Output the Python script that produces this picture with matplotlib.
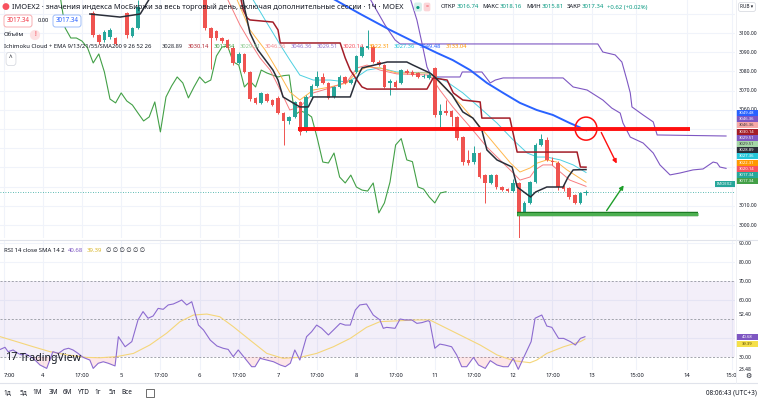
import numpy as np
import matplotlib
matplotlib.use('Agg')
import matplotlib.pyplot as plt
import matplotlib.transforms as mtransforms
import matplotlib.patheffects as pe
from matplotlib.patches import Ellipse, Rectangle
from matplotlib.lines import Line2D

plt.rcParams['font.family'] = ['Noto Sans', 'DejaVu Sans']

nan = float('nan')

# hourly candles, bar numbers 16..104 (104 = last bar), nan = bar above the visible range
first_bar = 16
opens = [3110.4, 3099.0, 3096.4, 3097.9, 3097.4, nan, 3110.4, 3098.4, 3102.6,
         nan, nan, nan, nan, nan, nan, nan, nan, nan, nan, 3124.0,
         3121.0, 3102.6, 3101.0, 3097.4, 3096.4, 3092.2, 3084.4, 3089.1, 3079.7, 3066.2,
         3063.6, 3068.2, 3065.1, 3066.2, 3058.3, 3054.2, 3056.3, 3064.1, 3049.0, 3066.7,
         3072.4, 3077.1, 3074.0, 3066.7, 3071.9, 3077.1, 3074.0, 3079.7, 3088.0, 3092.2,
         3092.7, 3085.0, 3083.3, 3073.9, 3074.5, 3073.9, 3080.2, 3079.7, 3079.2, 3077.1,
         3076.6, 3081.8, 3057.3, 3059.4, 3059.4, 3056.3, 3045.8, 3033.9, 3032.8, 3037.5,
         3026.0, 3021.9, 3026.0, 3019.8, 3018.7, 3017.9, 3021.9, 3006.3, 3011.5, 3022.4,
         3041.7, 3044.3, 3033.6, 3032.3, 3019.8, 3019.3, 3015.6, 3011.5, 3016.74]
highs = [3111.5, 3099.6, 3101.6, 3102.6, 3098.0, nan, 3111.0, 3103.2, 3117.0,
         nan, nan, nan, nan, nan, nan, nan, nan, nan, nan, 3126.0,
         3123.0, 3103.0, 3101.6, 3098.0, 3097.0, 3093.0, 3090.0, 3089.6, 3080.2, 3066.8,
         3069.4, 3068.8, 3065.6, 3067.0, 3058.8, 3057.0, 3064.8, 3064.8, 3067.5, 3073.5,
         3080.0, 3079.0, 3074.6, 3072.5, 3078.0, 3077.6, 3076.2, 3088.6, 3094.0, 3101.6,
         3093.5, 3086.0, 3084.0, 3076.0, 3075.5, 3081.5, 3081.0, 3080.5, 3079.8, 3078.5,
         3079.0, 3082.5, 3063.0, 3065.0, 3060.0, 3057.0, 3046.5, 3039.0, 3041.0, 3038.2,
         3026.6, 3026.8, 3026.6, 3020.4, 3019.3, 3024.2, 3022.5, 3012.3, 3023.0, 3042.5,
         3047.5, 3046.0, 3035.5, 3033.4, 3021.0, 3020.0, 3016.2, 3017.4, 3018.16]
lows = [3098.0, 3094.2, 3095.5, 3097.0, 3093.5, nan, 3097.5, 3097.8, 3102.0,
        nan, nan, nan, nan, nan, nan, nan, nan, nan, nan, 3120.0,
        3101.5, 3081.0, 3096.2, 3094.8, 3091.6, 3083.5, 3083.8, 3079.0, 3064.8, 3063.0,
        3063.0, 3064.0, 3061.8, 3057.8, 3041.7, 3052.5, 3055.5, 3047.0, 3048.3, 3066.0,
        3071.8, 3073.5, 3065.6, 3066.0, 3071.3, 3073.5, 3073.4, 3079.0, 3087.5, 3091.5,
        3084.4, 3082.8, 3071.3, 3067.7, 3071.3, 3073.4, 3078.5, 3077.6, 3076.6, 3076.6,
        3076.0, 3056.5, 3051.0, 3057.5, 3051.6, 3044.5, 3031.5, 3031.5, 3032.0, 3024.3,
        3011.5, 3021.4, 3019.0, 3017.5, 3017.2, 3017.4, 2993.5, 3005.5, 3010.8, 3021.8,
        3041.0, 3033.2, 3031.4, 3018.0, 3017.8, 3013.5, 3010.8, 3010.8, 3015.81]
closes = [3099.0, 3095.3, 3100.5, 3101.6, 3094.3, nan, 3099.0, 3102.6, 3113.6,
          nan, nan, nan, nan, nan, nan, nan, nan, nan, nan, 3121.0,
          3102.6, 3097.4, 3097.4, 3095.8, 3092.2, 3084.4, 3089.1, 3079.7, 3065.6, 3063.6,
          3068.8, 3064.6, 3062.5, 3058.3, 3054.2, 3056.3, 3064.1, 3048.5, 3066.7, 3072.4,
          3077.1, 3074.0, 3066.2, 3071.9, 3077.1, 3074.0, 3075.5, 3088.0, 3092.7, 3093.2,
          3085.0, 3083.3, 3071.9, 3075.0, 3071.9, 3080.7, 3079.2, 3078.1, 3077.1, 3077.8,
          3078.1, 3057.3, 3059.4, 3058.4, 3056.3, 3045.3, 3032.8, 3032.3, 3037.5, 3025.0,
          3021.9, 3026.0, 3019.8, 3018.2, 3017.7, 3021.9, 3006.3, 3011.5, 3022.4, 3041.7,
          3045.0, 3033.9, 3033.0, 3019.8, 3018.7, 3014.6, 3011.5, 3016.7, 3017.34]

# Ichimoku lines (bar, price)
tenkan_bar = [15.4, 20.8, 24.4, 26.5, 42.6, 43.1, 44.0, 45.4, 48.1, 49.0, 49.9, 52.9, 54.4, 55.3,
              61.9, 63.1, 64.0, 68.5, 72.0, 73.1, 76.1, 77.0, 80.1, 82.0, 83.8, 85.4, 86.3, 88.1,
              90.8, 91.7, 94.1, 95.0, 97.0, 99.9, 100.8, 101.7, 104]
tenkan_val = [3109.9, 3108.3, 3109.9, 3120.0, 3120.0, 3112.0, 3100.0, 3091.2, 3080.7, 3075.5,
              3066.7, 3061.5, 3061.5, 3066.7, 3066.7, 3076.6, 3081.8, 3084.9, 3084.9, 3083.3,
              3079.2, 3077.1, 3067.7, 3058.9, 3055.7, 3049.5, 3039.1, 3033.9, 3030.2, 3019.8,
              3014.6, 3017.2, 3019.8, 3019.8, 3025.0, 3028.7, 3028.89]
kijun_bar = [42.2, 42.8, 43.5, 44.0, 48.1, 49.0, 49.4, 60.1, 61.0, 61.9, 63.1, 64.0, 64.9, 75.6,
             76.7, 79.2, 80.3, 82.0, 85.1, 85.4, 90.4, 91.7, 102.4, 103.0, 104]
kijun_val = [3120.0, 3112.0, 3107.8, 3106.8, 3105.7, 3101.6, 3094.8, 3094.8, 3087.0, 3080.7,
             3075.5, 3071.9, 3070.8, 3070.8, 3076.6, 3075.5, 3068.8, 3065.1, 3064.1, 3055.7,
             3055.7, 3038.0, 3038.0, 3030.2, 3030.14]
span_a_bar = [72.4, 73.8, 74.7, 75.6, 76.1, 77.0, 81.5, 81.9, 85.4, 86.9, 87.8, 89.2, 99.9, 101.7,
              104.2, 107.0, 108.6, 110.1, 110.6, 111.9, 114.2, 116.0, 117.2, 119.0, 120.8, 123.1,
              124.9, 126.7, 127.4, 127.9, 129]
span_a_val = [3120.0, 3106.8, 3094.8, 3082.3, 3079.2, 3077.1, 3077.1, 3079.7, 3079.7, 3074.0,
              3075.5, 3076.6, 3076.6, 3071.9, 3070.3, 3065.1, 3060.9, 3058.3, 3053.1, 3045.8,
              3042.7, 3037.5, 3031.3, 3026.1, 3027.1, 3028.7, 3029.2, 3032.8, 3032.3, 3030.2,
              3029.51]
span_b_bar = [65.0, 68.1, 69.9, 70.8, 106.1, 107.0, 109.2, 110.4, 111.3, 111.9, 112.2, 114.2,
              116.0, 116.7, 129]
span_b_val = [3120.0, 3104.2, 3096.4, 3094.3, 3094.3, 3090.1, 3088.6, 3084.9, 3075.5, 3068.8,
              3061.5, 3057.3, 3053.7, 3046.9, 3046.36]

# moving averages (bar, price)
ema9_bar = [39.6, 42.2, 44.0, 45.8, 47.6, 49.4, 51.1, 52.9, 55.3, 58.3, 61.3, 63.1, 64.9, 67.2,
            70.2, 76.1, 77.9, 80.2, 83.3, 86.3, 89.2, 91.0, 92.2, 94.0, 94.9, 96.3, 97.9, 99.4,
            101.1, 104]
ema9_val = [3120.0, 3104.2, 3095.3, 3087.0, 3080.7, 3070.3, 3059.9, 3061.5, 3068.8, 3071.4,
            3074.5, 3081.8, 3083.3, 3080.7, 3078.7, 3078.1, 3070.3, 3061.5, 3051.1, 3040.6,
            3032.3, 3027.1, 3023.4, 3025.0, 3028.7, 3031.3, 3031.3, 3027.6, 3023.4, 3020.14]
ema13_bar = [41.3, 44.0, 46.7, 49.4, 51.1, 52.9, 55.3, 58.3, 61.3, 63.1, 64.9, 67.2, 70.2, 76.1,
             79.2, 82.0, 85.1, 88.1, 90.5, 92.2, 94.0, 95.3, 97.0, 98.8, 100.6, 104]
ema13_val = [3120.0, 3101.6, 3091.2, 3078.1, 3069.3, 3065.1, 3070.3, 3071.9, 3074.0, 3079.7,
             3082.3, 3081.8, 3079.2, 3079.2, 3070.3, 3061.5, 3051.1, 3040.6, 3032.3, 3027.6,
             3029.7, 3032.3, 3033.9, 3032.8, 3028.7, 3022.31]
ema21_bar = [44.0, 46.7, 49.4, 51.1, 52.9, 55.3, 58.3, 61.3, 63.1, 64.9, 67.2, 70.2, 76.1, 79.2,
             82.0, 85.1, 88.1, 91.0, 93.5, 95.3, 97.0, 99.4, 101.7, 104]
ema21_val = [3120.0, 3106.8, 3093.8, 3086.0, 3078.1, 3075.5, 3075.5, 3074.5, 3077.1, 3080.7,
             3081.8, 3079.7, 3079.2, 3074.5, 3068.8, 3060.9, 3053.1, 3044.3, 3037.5, 3035.4,
             3035.4, 3033.9, 3031.3, 3027.36]
ema55_bar = [57.5, 63.7, 69.0, 74.4, 77.4, 80.2, 83.3, 86.3, 89.2, 92.2, 95.2, 98.1, 101.1, 104]
ema55_val = [3120.0, 3109.9, 3101.6, 3093.8, 3089.6, 3085.9, 3080.7, 3074.0, 3068.8, 3063.6,
             3059.9, 3057.3, 3053.1, 3049.48]

# RSI 14 and its SMA 14 (bar, value)
rsi_bar = [-0.6, 0.25, 0.8, 1.7, 2.6, 3.2, 3.8, 5.3, 6.5, 7.7, 8.8, 9.8, 10.8, 11.6, 12.4, 13.3,
           14.2, 15.4, 16, 16.9, 17.8, 18.7, 19.9, 20.5, 21.7, 22.9, 24, 24.9, 25.8, 26.7, 27.6,
           28.5, 29.4, 30.3, 31.2, 31.8, 32.7, 33.6, 34.8, 35.7, 36.9, 38.1, 39.2, 40.1, 41,
           41.9, 43.1, 44.3, 44.9, 45.8, 47, 48.2, 49.4, 50.3, 51.2, 52, 52.9, 54.1, 55, 55.9,
           56.8, 58, 58.9, 60.1, 61, 61.9, 62.8, 63.6, 64.8, 66, 67.2, 67.8, 68.4, 69.9, 70.8,
           71.7, 72.9, 73.8, 74.7, 75.8, 76.1, 77, 77.9, 78.8, 80, 80.9, 81.8, 82.7, 83.9, 84.8,
           86, 86.9, 88.1, 89.2, 90.1, 91, 91.9, 92.8, 94.2, 94.9, 96.1, 97, 97.9, 99.1, 100,
           101.2, 102.1, 103, 103.8]
rsi_val = [34.0, 35.1, 32.8, 33.7, 31.9, 31.1, 31.9, 29.3, 25.8, 24.0, 32.8, 31.9, 34.0, 34.6,
           33.7, 31.9, 29.8, 28.4, 24.0, 26.7, 27.5, 26.7, 25.3, 40.7, 35.4, 38.1, 49.5, 53.9,
           50.4, 51.6, 55.6, 55.1, 57.4, 57.9, 59.1, 60.0, 57.4, 59.1, 46.8, 44.2, 38.9, 35.8,
           34.6, 34.0, 30.2, 33.7, 29.3, 24.9, 24.9, 29.3, 28.4, 27.5, 25.8, 24.9, 26.7, 33.7,
           28.4, 40.7, 43.3, 46.8, 45.1, 41.6, 44.2, 47.7, 46.8, 46.8, 54.7, 57.4, 57.9, 52.1,
           49.5, 45.1, 45.6, 45.1, 50.0, 49.5, 49.5, 47.7, 48.1, 49.1, 48.6, 34.6, 36.8, 36.3,
           35.4, 31.1, 24.9, 24.9, 29.8, 25.8, 24.0, 28.1, 25.8, 24.9, 24.9, 29.3, 23.5, 29.3,
           38.1, 50.4, 52.1, 46.3, 45.6, 39.8, 39.8, 38.1, 36.3, 39.8, 40.68]
rsi_ma_bar = [-0.6, 2.3, 5.3, 8.3, 11.3, 14.8, 17.2, 20.2, 23.2, 26.1, 29.1, 31.5, 33.9, 36.3,
              38.6, 41.0, 44.0, 47.0, 49.9, 52.9, 55.9, 58.9, 61.9, 64.8, 67.2, 70.8, 73.8, 76.1,
              79.1, 82.1, 85.1, 88.1, 91.0, 94.0, 95.2, 97.0, 100.0, 103.0, 103.8]
rsi_ma_val = [40.7, 38.1, 35.4, 32.8, 31.1, 29.8, 29.6, 30.2, 31.9, 36.3, 42.5, 48.6, 52.1, 52.6,
              51.2, 46.0, 38.9, 31.9, 29.3, 29.8, 31.9, 35.4, 39.8, 45.6, 48.6, 49.1, 49.5, 49.5,
              45.1, 40.7, 36.3, 31.1, 28.1, 27.0, 28.4, 31.9, 35.4, 38.1, 39.39]

# time axis
time_ticks = [0, 7, 14, 21, 28, 35, 42, 49, 56, 63, 70, 77, 84, 91, 98, 105, 113, 122, 130]
time_labels = ['7:00', '4', '17:00', '5', '17:00', '6', '17:00', '7', '17:00', '8', '17:00',
               '11', '17:00', '12', '17:00', '13', '15:00', '14', '15:0']

# user drawings
resist_level = 3050.0
resist_span = [52.6, 122.6]
support_level = 3005.7
support_span = [91.7, 124.0]
down_arrow = [(106.5, 3049.5), (109.7, 3030.7)]
up_arrow = [(107.4, 3006.3), (111.0, 3021.9)]
circle_center = (104.0, 3050.2)

# price scale labels
scale_ticks = [3100, 3090, 3080, 3070, 3060, 3010, 3000]
tag_text = ['3049.48', '3046.36', '3046.36', '3030.14', '3029.51', '3029.51', '3028.89',
            '3027.36', '3022.31', '3020.14', '3017.34', '3017.34']
tag_color = ['#2962ff', '#7e57c2', '#f7a9a8', '#a31d28', '#7e57c2', '#a5d6a7', '#2a2e39',
             '#26c6da', '#ff9800', '#f7525f', '#26a69a', '#43a047']

W, H = 758, 403
fig = plt.figure(figsize=(W / 100, H / 100), dpi=100)
fig.patch.set_facecolor('white')


def fy(y):
    return 1 - y / H


ax = fig.add_axes([0, 1 - 238 / H, 735 / W, 238 / H])
axr = fig.add_axes([0, 1 - 370 / H, 735 / W, 130 / H])
for a in (ax, axr):
    a.set_xlim(-0.64, 130.6)
    for s in a.spines.values():
        s.set_visible(False)
    a.set_yticks([])
    for t in time_ticks:
        a.axvline(t, color='#f0f3fa', lw=0.8, zorder=0)
ax.set_xticks([])
ax.set_ylim(2993.24, 3117.19)
axr.set_ylim(23.16, 91.58)
for p in range(3000, 3120, 10):
    ax.axhline(p, color='#f0f3fa', lw=0.8, zorder=0)
for r in [90, 80, 60, 40]:
    axr.axhline(r, color='#f0f3fa', lw=0.8, zorder=0)

# candles
bars = np.arange(first_bar, first_bar + len(opens))
o, h, l, c = (np.array(v) for v in (opens, highs, lows, closes))
col = np.where(c >= o, '#26a69a', '#ef5350')
ax.vlines(bars, l, h, colors=col, lw=0.7, zorder=4)
ax.bar(bars, np.maximum(np.abs(c - o), 0.35), bottom=np.minimum(o, c), width=0.62,
       color=col, linewidth=0, zorder=5)

# indicators
ax.plot(span_b_bar, span_b_val, color='#7e57c2', lw=0.8, zorder=2)
ax.plot(span_a_bar, span_a_val, color='#7e57c2', lw=0.8, zorder=2)
ax.plot(bars - 25, c, color='#43a047', lw=0.8, zorder=3)
ax.plot(ema55_bar, ema55_val, color='#2962ff', lw=1.4, zorder=3)
ax.plot(ema21_bar, ema21_val, color='#4dd0e1', lw=0.7, zorder=3)
ax.plot(ema13_bar, ema13_val, color='#ffb74d', lw=0.7, zorder=3)
ax.plot(ema9_bar, ema9_val, color='#f77c80', lw=0.7, zorder=3)
ax.plot(kijun_bar, kijun_val, color='#a31d28', lw=1.1, zorder=6)
ax.plot(tenkan_bar, tenkan_val, color='#2a2e39', lw=1.1, zorder=6)
ax.axhline(c[-1], color='#26a69a', lw=0.6, ls=(0, (1, 2)), zorder=1)

# drawings
ax.plot(resist_span, [resist_level] * 2, color='#ff1010', lw=2.8, solid_capstyle='butt', zorder=7)
ax.plot(support_span, [support_level] * 2, color='#4caf50', lw=2.2, solid_capstyle='butt', zorder=7,
        path_effects=[pe.Stroke(linewidth=3.2, foreground='#1b7a23'), pe.Normal()])
ax.add_patch(Ellipse(circle_center, 3.9, 12, fill=False, ec='#ff1010', lw=1.1, zorder=7))
ax.annotate('', xy=down_arrow[1], xytext=down_arrow[0],
            arrowprops=dict(arrowstyle='-|>', color='#ff1010', lw=1.0, mutation_scale=6), zorder=7)
ax.annotate('', xy=up_arrow[1], xytext=up_arrow[0],
            arrowprops=dict(arrowstyle='-|>', color='#1e9e2a', lw=1.0, mutation_scale=6), zorder=7)

# RSI pane
axr.axhspan(30, 70, color='#7e57c2', alpha=0.09, lw=0, zorder=0)
for lvl in (70, 50, 30):
    axr.axhline(lvl, color='#9598a1', lw=0.6, ls=(0, (2.5, 2)), zorder=1)
rb, rv = np.array(rsi_bar), np.array(rsi_val)
axr.fill_between(rb, rv, 30, where=rv < 30, interpolate=True, color='#f23645', alpha=0.12, lw=0)
axr.plot(rsi_ma_bar, rsi_ma_val, color='#f5d67a', lw=0.8, zorder=2)
axr.plot(rb, rv, color='#8c6bd0', lw=0.8, zorder=3)
axr.set_xticks(time_ticks)
axr.set_xticklabels(time_labels)
axr.tick_params(axis='x', length=0, labelsize=4.2, labelcolor='#131722', pad=2.2)
axr.get_xticklabels()[0].set_horizontalalignment('left')

# price scale
tp = mtransforms.blended_transform_factory(fig.transFigure, ax.transData)
for p in scale_ticks:
    ax.text(739 / W, p, f'{p:.2f}', transform=tp, fontsize=3.6, color='#131722', va='center')
for i, (s, bg) in enumerate(zip(tag_text, tag_color)):
    y = 113 + 6.2 * i
    fig.patches.append(Rectangle((736 / W, fy(y + 3)), 22 / W, 6 / H, transform=fig.transFigure,
                                 fc=bg, ec='none'))
    tc = '#3a3a3a' if bg in ('#f7a9a8', '#a5d6a7') else 'white'
    fig.text(747 / W, fy(y), s, fontsize=3.0, color=tc, ha='center', va='center')
fig.patches.append(Rectangle((715 / W, fy(187)), 20 / W, 6 / H, transform=fig.transFigure,
                             fc='#26a69a', ec='none'))
fig.text(725 / W, fy(184), 'IMOEX2', fontsize=3.0, color='white', ha='center', va='center')

tr = mtransforms.blended_transform_factory(fig.transFigure, axr.transData)
for r, s in [(90, '90.00'), (80, '80.00'), (70, '70.00'), (60, '60.00'), (52.4, '52.40'),
             (30, '30.00'), (23.48, '23.48')]:
    axr.text(739 / W, r, s, transform=tr, fontsize=3.6, color='#131722', va='center')
for y, s, bg, tc in [(337, '40.68', '#7e57c2', 'white'), (344, '39.39', '#f5e04a', '#5a4a00')]:
    fig.patches.append(Rectangle((736 / W, fy(y + 3)), 22 / W, 6 / H, transform=fig.transFigure,
                                 fc=bg, ec='none'))
    fig.text(747 / W, fy(y), s, fontsize=3.0, color=tc, ha='center', va='center')
fig.text(748 / W, fy(376), '⚙', fontsize=5, color='#131722', ha='center', va='center')

# frame lines
fig.add_artist(Line2D([0, 1], [fy(239.5), fy(239.5)], color='#e0e3eb', lw=0.8))
fig.add_artist(Line2D([0, 1], [fy(383), fy(383)], color='#e0e3eb', lw=0.8))
fig.add_artist(Line2D([735.5 / W, 735.5 / W], [fy(383), 1], color='#eceef3', lw=0.6))

renderer = fig.canvas.get_renderer()


def text_row(x, y, pieces, size):
    # lay legend pieces one after another, like the chart legend
    for s, cl, gap in pieces:
        t = fig.text(x / W, fy(y), s, fontsize=size, color=cl, va='center')
        x += t.get_window_extent(renderer).width + gap


# legend rows
txt = '#131722'
teal = '#089981'
fig.text(5 / W, fy(7), '●', fontsize=6.5, color='#f7525f', ha='center', va='center')
fig.text(12 / W, fy(7), 'IMOEX2 · значения индекса МосБиржи за весь торговый день, '
         'включая дополнительные сессии · 1Ч · MOEX', fontsize=5.35, color=txt, va='center')
fig.text(418 / W, fy(7), '●', fontsize=3.2, color=teal, ha='center', va='center',
         bbox=dict(boxstyle='round,pad=0.45', fc='#d7f0ec', ec='none'))
fig.text(427 / W, fy(7), '=', fontsize=3.8, color='#f23645', ha='center', va='center',
         bbox=dict(boxstyle='round,pad=0.35', fc='#fbd5d8', ec='none'))
text_row(441, 7, [('ОТКР', txt, 0.6), ('3016.74', teal, 3.5), ('МАКС', txt, 0.6),
                  ('3018.16', teal, 3.5), ('МИН', txt, 0.6), ('3015.81', teal, 3.5),
                  ('ЗАКР', txt, 0.6), ('3017.34', teal, 2.5), ('+0.62 (+0.02%)', teal, 0)], 4.3)
fig.text(747 / W, fy(7), 'RUB ▾', fontsize=3.4, color=txt, ha='center', va='center',
         bbox=dict(boxstyle='round,pad=0.4', fc='white', ec='#d1d4dc', lw=0.5))

fig.text(18 / W, fy(21), '3017.34', fontsize=4.5, color='#f23645', ha='center', va='center',
         bbox=dict(boxstyle='round,pad=0.4', fc='white', ec='#f7a1a5', lw=0.6))
fig.text(43 / W, fy(21), '0.00', fontsize=4.2, color=txt, ha='center', va='center')
fig.text(67 / W, fy(21), '3017.34', fontsize=4.5, color='#2962ff', ha='center', va='center',
         bbox=dict(boxstyle='round,pad=0.4', fc='white', ec='#90b4f8', lw=0.6))
fig.text(4 / W, fy(35), 'Объём', fontsize=4.4, color=txt, va='center')
fig.text(35 / W, fy(35), '!', fontsize=4.6, color='#f23645', ha='center', va='center',
         fontweight='bold', bbox=dict(boxstyle='circle,pad=0.25', fc='#fde1e3', ec='none'))
fig.text(4 / W, fy(47), 'Ichimoku Cloud + EMA 9/13/21/55/SMA200 9 26 52 26', fontsize=4.2,
         color=txt, va='center')
text_row(162, 47, [('3028.89', '#2a2e39', 4.5), ('3030.14', '#b22833', 4.5), ('3017.34', '#43a047', 4.5),
                   ('3029.51', '#8bc98e', 4.5), ('3046.36', '#f28b8f', 4.5), ('3046.36', '#9575cd', 4.5),
                   ('3029.51', '#9575cd', 4.5), ('3020.14', '#f7525f', 4.5), ('3022.31', '#ff9800', 4.5),
                   ('3027.36', '#26c6da', 4.5), ('3049.48', '#2962ff', 4.5), ('3133.04', '#ff9800', 0)], 4.15)
fig.text(11 / W, fy(59), '^', fontsize=4.5, color=txt, ha='center', va='center',
         bbox=dict(boxstyle='round,pad=0.5', fc='white', ec='#d1d4dc', lw=0.5))

text_row(4, 250, [('RSI 14 close SMA 14 2', txt, 3.5), ('40.68', '#7e57c2', 3.5),
                  ('39.39', '#d8b62a', 3.5), ('∅ ∅ ∅ ∅ ∅ ∅', txt, 0)], 4.3)

fig.text(5 / W, fy(358), '17', fontsize=8, color='#131722', fontweight='bold', va='center')
fig.text(20 / W, fy(358), 'TradingView', fontsize=7.6, color='#131722', fontweight='bold', va='center')

for x, s in [(7, '1д'), (23, '5д'), (37, '1М'), (53, '3М'), (67, '6М'), (83, 'YTD'),
             (98, '1г'), (112, '5л'), (127, 'Все')]:
    fig.text(x / W, fy(393), s, fontsize=4.6, color=txt, ha='center', va='center')
fig.patches.append(Rectangle((146 / W, fy(397)), 8 / W, 8 / H, transform=fig.transFigure,
                             fc='none', ec='#555', lw=0.6))
fig.text(757 / W, fy(393), '08:06:43 (UTC+3)', fontsize=4.6, color=txt, ha='right', va='center')

fig.savefig('out.png', dpi=100, facecolor='white')
